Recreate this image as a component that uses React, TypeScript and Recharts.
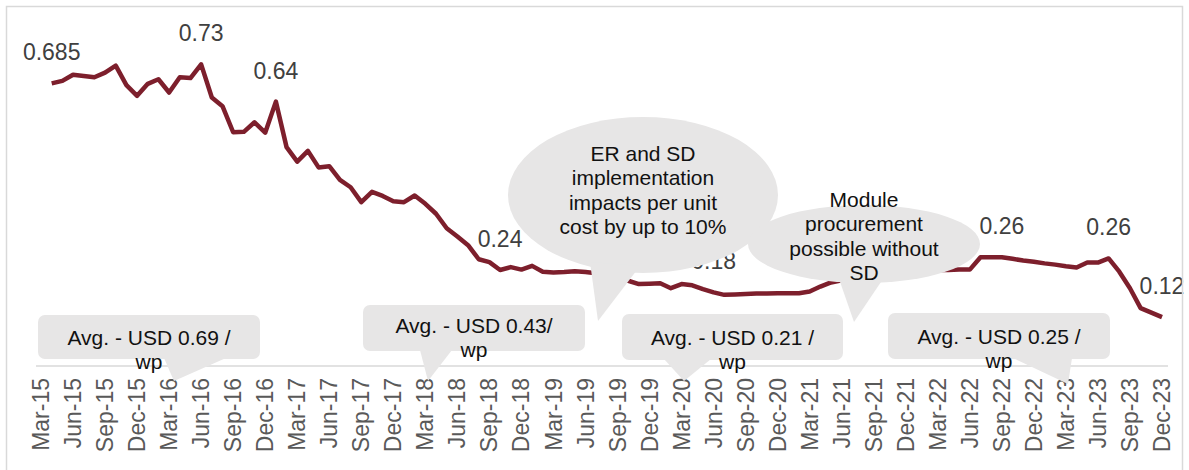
import React from 'react';
import { LineChart, Line, XAxis, YAxis, LabelList } from 'recharts';

const FONT = '"Liberation Sans", Arial, sans-serif';

const MONTHS = ['Jan', 'Feb', 'Mar', 'Apr', 'May', 'Jun', 'Jul', 'Aug', 'Sep', 'Oct', 'Nov', 'Dec'];
const YEARS = ['15', '16', '17', '18', '19', '20', '21', '22', '23'];

// module price, USD / wp, one value per month (2015 starts at Mar)
const price2015 = [null, 0.683, 0.689, 0.704, 0.701, 0.698, 0.709, 0.726, 0.679, 0.653];
const price2016 = [0.682, 0.693, 0.661, 0.698, 0.696, 0.729, 0.649, 0.628, 0.565, 0.566, 0.589, 0.564];
const price2017 = [0.639, 0.529, 0.494, 0.52, 0.48, 0.483, 0.45, 0.432, 0.396, 0.421, 0.411, 0.398];
const price2018 = [0.396, 0.412, 0.392, 0.368, 0.333, 0.313, 0.292, 0.258, 0.251, 0.232, 0.239, 0.233];
const price2019 = [0.242, 0.228, 0.226, 0.227, 0.229, 0.227, 0.224, 0.22, 0.214, 0.206, 0.198, 0.199];
const price2020 = [0.2, 0.188, 0.198, 0.195, 0.186, 0.178, 0.172, 0.173, 0.174, 0.175, 0.175, 0.176];
const price2021 = [0.176, 0.176, 0.18, 0.192, 0.202, 0.207, 0.211, 0.214, 0.218, 0.221, 0.224, 0.227];
const price2022 = [0.229, 0.231, 0.232, 0.232, 0.233, 0.233, 0.263, 0.263, 0.263, 0.259, 0.255, 0.252];
const price2023 = [0.248, 0.245, 0.241, 0.238, 0.25, 0.25, 0.26, 0.228, 0.188, 0.14, 0.129, 0.118];

const prices = [
  ...price2015, ...price2016, ...price2017, ...price2018, ...price2019,
  ...price2020, ...price2021, ...price2022, ...price2023,
];

// value labels written on the line
const pointTags: Record<string, string> = {
  'Apr-15': '0.685',
  'Jun-16': '0.73',
  'Jan-17': '0.64',
  'Oct-18': '0.24',
  'Jun-20': '0.18',
  'Sep-22': '0.26',
  'Jul-23': '0.26',
  'Dec-23': '0.12',
};

const monthNames: string[] = [];
YEARS.forEach((yy, yi) => {
  MONTHS.forEach((m, mi) => {
    if (yi === 0 && mi < 2) return;
    monthNames.push(`${m}-${yy}`);
  });
});

const data = monthNames.map((month, i) => ({
  month,
  price: prices[i],
  tag: pointTags[month],
}));

const bubbleER = ['ER and SD', 'implementation', 'impacts per unit', 'cost by up to 10%'];
const bubbleModule = ['Module', 'procurement', 'possible without', 'SD'];
const avgBoxes = [
  { lines: ['Avg. - USD 0.69 /', 'wp'], x: 38, y: 315, w: 222, h: 44, tail: '164,358 226,358 174,381', top: 345 },
  { lines: ['Avg. - USD 0.43/', 'wp'], x: 363, y: 305, w: 222, h: 46, tail: '420,350 452,350 428,381', top: 333 },
  { lines: ['Avg. - USD 0.21 /', 'wp'], x: 622, y: 314, w: 221, h: 46, tail: '664,359 711,359 684,381', top: 345 },
  { lines: ['Avg. - USD 0.25 /', 'wp'], x: 888, y: 313, w: 222, h: 46, tail: '1013,358 1072,358 1068,384', top: 344 },
];

function MonthTick({ x, y, payload }: any) {
  return (
    <text
      x={0}
      y={0}
      transform={`translate(${x},${y + 4}) rotate(-90)`}
      textAnchor="end"
      dy="0.35em"
      fontSize={23}
      fill="#595959"
      fontFamily={FONT}
    >
      {payload.value}
    </text>
  );
}

const renderTag = (p: any) => {
  if (!p.value) return null;
  return (
    <text x={p.x} y={p.y - 23} textAnchor="middle" fontSize={23} fill="#404040" fontFamily={FONT}>
      {p.value}
    </text>
  );
};

const FILL = '#e7e6e6';

export default function App() {
  return (
    <div style={{ position: 'absolute', left: 0, top: 0, width: 1189, height: 470, background: '#fff' }}>
      <LineChart width={1189} height={470} data={data} margin={{ top: 35, right: 21, bottom: 0, left: 36 }}>
        <YAxis hide domain={[0, 0.8]} />
        <XAxis
          dataKey="month"
          interval={2}
          height={104}
          tickLine={false}
          axisLine={{ stroke: '#d9d9d9', strokeWidth: 1.5 }}
          padding={{ left: 5, right: 6 }}
          tick={<MonthTick />}
        />
        <Line
          dataKey="price"
          stroke="#7d1f2c"
          strokeWidth={4.5}
          strokeLinejoin="round"
          dot={false}
          isAnimationActive={false}
        >
          <LabelList dataKey="tag" content={renderTag} />
        </Line>
      </LineChart>

      <svg width={1189} height={470} style={{ position: 'absolute', left: 0, top: 0 }} fontFamily={FONT}>
        <rect x={6.5} y={6.5} width={1176} height={470} fill="none" stroke="#d9d9d9" strokeWidth={1.5} />

        {/* callout: ER and SD */}
        <ellipse cx={643} cy={195} rx={135} ry={78} fill={FILL} />
        <polygon points="590,262 640,266 598,321" fill={FILL} />
        {bubbleER.map((t, i) => (
          <text key={t} x={643} y={161 + i * 24.3} textAnchor="middle" fontSize={21} fill="#111">
            {t}
          </text>
        ))}

        {/* callout: module procurement */}
        <ellipse cx={864} cy={244} rx={116} ry={39} fill={FILL} />
        <polygon points="838,276 885,276 854,322" fill={FILL} />
        {bubbleModule.map((t, i) => (
          <text key={t} x={864} y={207 + i * 24.3} textAnchor="middle" fontSize={21} fill="#111">
            {t}
          </text>
        ))}

        {avgBoxes.map((b) => (
          <g key={b.lines[0]}>
            <rect x={b.x} y={b.y} width={b.w} height={b.h} rx={7} fill={FILL} />
            <polygon points={b.tail} fill={FILL} />
            {b.lines.map((t, i) => (
              <text key={t} x={b.x + b.w / 2} y={b.top + i * 24} textAnchor="middle" fontSize={21} fill="#111">
                {t}
              </text>
            ))}
          </g>
        ))}
      </svg>
    </div>
  );
}
